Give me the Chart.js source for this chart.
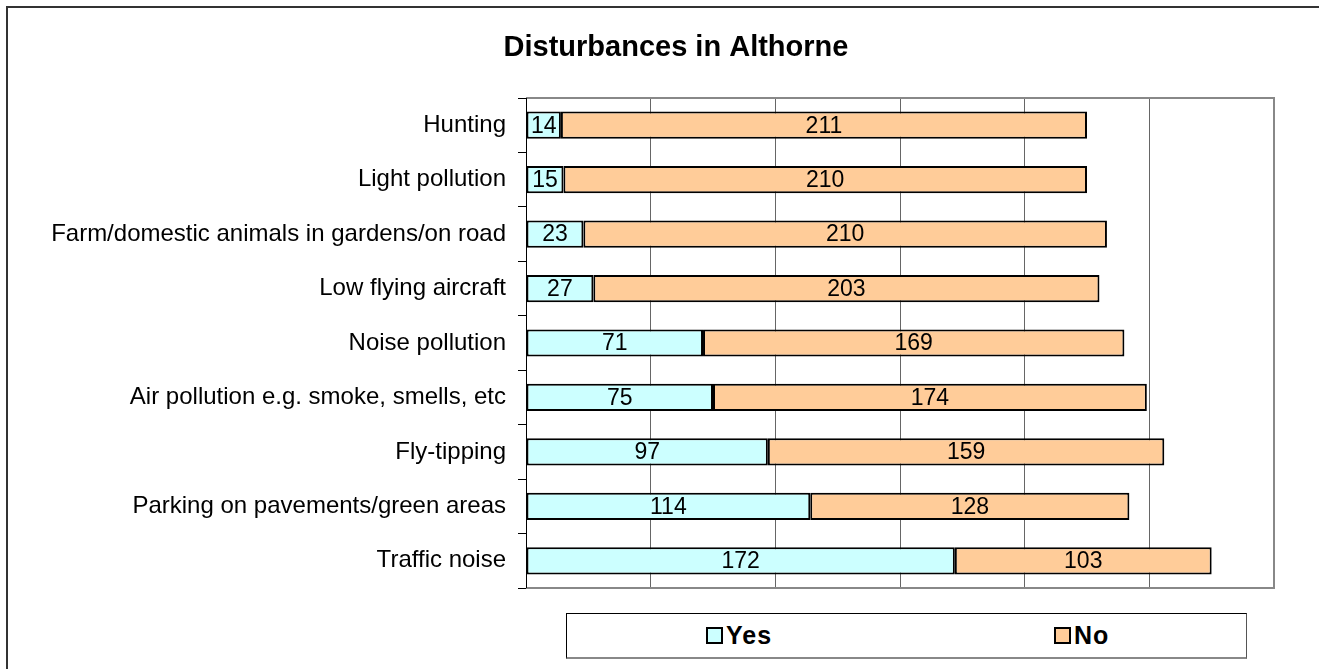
<!DOCTYPE html>
<html>
<head>
<meta charset="utf-8">
<script src="https://cdn.jsdelivr.net/npm/chart.js@4.4.1/dist/chart.umd.min.js"></script>
<style>
  html, body { margin: 0; padding: 0; background: #fff; width: 1319px; height: 669px; overflow: hidden; }
  #frame { position: absolute; left: 6px; top: 6px; width: 1400px; height: 800px; border-left: 2px solid #333; border-top: 2px solid #333; }
  #c { position: absolute; left: 0; top: 0; }
  #legend { position: absolute; left: 566px; top: 613px; width: 679px; height: 43px; border: 1px solid #000; border-bottom: 2px solid #888; border-right: 1px solid #555; background: #fff; font-family: "Liberation Sans", Arial, sans-serif; font-weight: bold; font-size: 25px; letter-spacing: 1px; color: #000; }
  .item { position: absolute; top: 0; height: 43px; display: flex; align-items: center; }
  .sw { width: 13px; height: 13px; border: 2px solid #000; margin-right: 3px; }
</style>
</head>
<body>
<div id="frame"></div>
<canvas id="c" width="1319" height="669"></canvas>
<div id="legend"></div>
<script>
const chartTitle = "Disturbances in Althorne";
const categories = [
  "Hunting",
  "Light pollution",
  "Farm/domestic animals in gardens/on road",
  "Low flying aircraft",
  "Noise pollution",
  "Air pollution e.g. smoke, smells, etc",
  "Fly-tipping",
  "Parking on pavements/green areas",
  "Traffic noise"
];
const seriesNames = ["Yes", "No"];
const yesValues = [14, 15, 23, 27, 71, 75, 97, 114, 172];
const noValues  = [211, 210, 210, 203, 169, 174, 159, 128, 103];
const seriesColors = ["#CCFFFF", "#FFCC99"];
const xMin = 0, xMax = 300, xStep = 50;

const FONT = "'Liberation Sans', Arial, Helvetica, sans-serif";

const titleShift = {
  id: 'titleShift',
  afterLayout(chart) {
    if (chart.titleBlock) chart.titleBlock.left = 78;
  }
};

const valueLabels = {
  id: 'valueLabels',
  afterDatasetsDraw(chart) {
    const ctx = chart.ctx;
    ctx.save();
    ctx.font = "23px " + FONT;
    ctx.fillStyle = "#000";
    ctx.textAlign = "center";
    ctx.textBaseline = "middle";
    chart.data.datasets.forEach((ds, di) => {
      const meta = chart.getDatasetMeta(di);
      meta.data.forEach((el, i) => {
        const cx = (el.x + el.base) / 2;
        ctx.fillText(String(ds.data[i]), cx, el.y + 1);
      });
    });
    ctx.restore();
  }
};

const plotFrame = {
  id: 'plotFrame',
  afterDraw(chart) {
    const a = chart.chartArea;
    const ctx = chart.ctx;
    ctx.save();
    ctx.strokeStyle = "#888";
    ctx.lineWidth = 2;
    ctx.beginPath();
    ctx.moveTo(a.left, a.top);
    ctx.lineTo(a.right, a.top);
    ctx.lineTo(a.right, a.bottom);
    ctx.lineTo(a.left, a.bottom);
    ctx.stroke();
    ctx.strokeStyle = "#000";
    ctx.lineWidth = 1;
    ctx.beginPath();
    ctx.moveTo(a.left + 0.5, a.top);
    ctx.lineTo(a.left + 0.5, a.bottom);
    ctx.stroke();
    ctx.restore();
  }
};

const chart = new Chart(document.getElementById('c'), {
  type: 'bar',
  data: {
    labels: categories,
    datasets: [
      { label: seriesNames[0], data: yesValues, backgroundColor: seriesColors[0], borderColor: "#000", borderWidth: 2, borderSkipped: false, barPercentage: 0.5, categoryPercentage: 1.0 },
      { label: seriesNames[1], data: noValues, backgroundColor: seriesColors[1], borderColor: "#000", borderWidth: 2, borderSkipped: false, barPercentage: 0.5, categoryPercentage: 1.0 }
    ]
  },
  options: {
    indexAxis: 'y',
    responsive: false,
    animation: false,
    devicePixelRatio: 1,
    layout: { padding: { left: 20, right: 45, top: 0, bottom: 81 } },
    plugins: {
      legend: { display: false },
      tooltip: { enabled: false },
      title: {
        display: true,
        text: chartTitle,
        color: "#000",
        font: { family: FONT, size: 29, weight: 'bold' },
        padding: { top: 30.6, bottom: 32.6 }
      }
    },
    scales: {
      x: {
        stacked: true,
        min: xMin, max: xMax,
        ticks: { display: false, stepSize: xStep },
        grid: { color: "#666", lineWidth: 1, drawTicks: false },
        border: { display: false },
        afterFit(s) { s.height = 0; }
      },
      y: {
        stacked: true,
        ticks: { color: "#000", font: { family: FONT, size: 24 }, padding: 12 },
        grid: { drawOnChartArea: false, drawTicks: true, tickLength: 8, color: "#000", offset: true },
        border: { display: true, color: "#000", width: 1 },
        afterFit(s) { s.width = 506; }
      }
    }
  },
  plugins: [titleShift, valueLabels, plotFrame]
});

// Legend built from the chart's datasets
const legendEl = document.getElementById('legend');
const legendOffsets = [139, 487];
chart.data.datasets.forEach((ds, i) => {
  const item = document.createElement('div');
  item.className = 'item';
  item.style.left = legendOffsets[i] + 'px';
  const sw = document.createElement('span');
  sw.className = 'sw';
  sw.style.background = ds.backgroundColor;
  const tx = document.createElement('span');
  tx.textContent = ds.label;
  item.appendChild(sw);
  item.appendChild(tx);
  legendEl.appendChild(item);
});
</script>
</body>
</html>
